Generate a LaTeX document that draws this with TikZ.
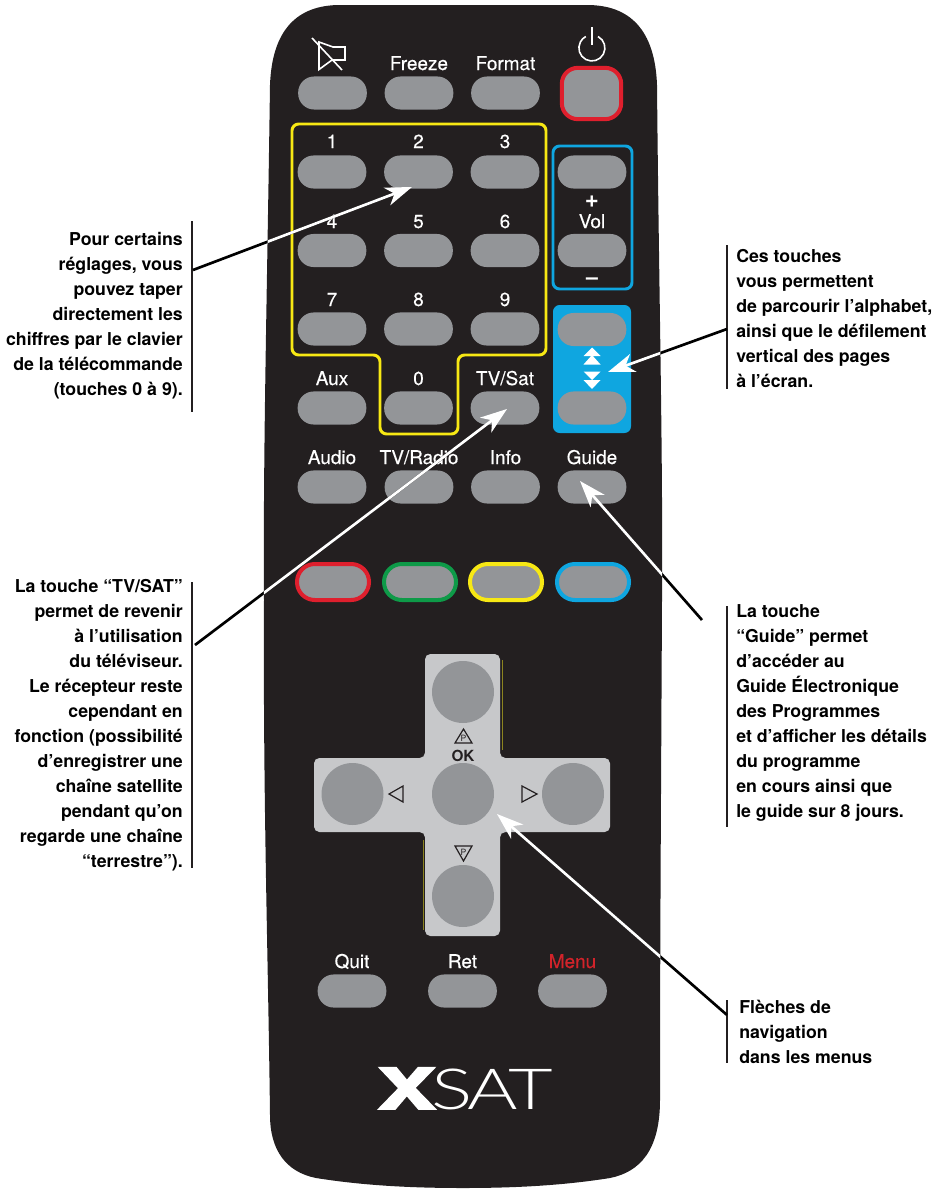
\documentclass[tikz,border=0pt]{standalone}
\usepackage{fontspec}
\setmainfont{TeX Gyre Heros}
\newfontfamily\satfont{Lato Light}
\newfontfamily\labfont[FakeBold=0.35]{TeX Gyre Heros}
\newfontfamily\logoxfont[BoldFeatures={FakeBold=3}]{TeX Gyre Heros}
\usetikzlibrary{arrows.meta}
\definecolor{bodyc}{HTML}{231F20}
\definecolor{btnc}{HTML}{939598}
\definecolor{crossc}{HTML}{C7C8CA}
\definecolor{redc}{HTML}{DF1F2D}
\definecolor{yelc}{HTML}{F7E814}
\definecolor{bluc}{HTML}{0FA6E0}
\definecolor{grnc}{HTML}{0E9A48}
\definecolor{olvc}{HTML}{8C8420}
\definecolor{menuc}{HTML}{D2232A}
\newcommand{\bodyshape}{(340,5) -- (587,5) .. controls (630,5) and (655,30) .. (657,85)
 .. controls (659,300) and (663,450) .. (662,600) .. controls (661,800) and (660,950) .. (660,1100)
 .. controls (660,1150) and (640,1172) .. (610,1178) .. controls (560,1186) and (510,1188) .. (463,1188)
 .. controls (416,1188) and (366,1186) .. (316,1178) .. controls (286,1172) and (270,1150) .. (270,1115)
 .. controls (268,950) and (263,800) .. (264,600) .. controls (263,450) and (267,300) .. (270,85)
 .. controls (272,30) and (297,5) .. (340,5) -- cycle}
\newcommand{\firstline}{\rule{0pt}{14pt}}
\tikzset{
 x=0.75pt,y=-0.75pt,
 pill/.style={fill=btnc,rounded corners=12pt,minimum width=51.5pt,minimum height=24.8pt,inner sep=0pt,draw=none},
 ringkey/.style={pill,draw=#1,line width=3pt,minimum width=54pt,minimum height=27pt,rounded corners=13.4pt},
 knob/.style={circle,fill=btnc,minimum size=46.5pt,inner sep=0pt},
 lab/.style={text=white,anchor=base,inner sep=0pt,font=\fontsize{14.2}{17}\labfont},
 note/.style={inner sep=0pt,text=black,font=\fontsize{13.3}{18.75}\selectfont\bfseries},
 noter/.style={note,align=right,anchor=north east},
 notel/.style={note,align=left,anchor=north west},
 bar/.style={draw=bodyc,line width=0.9pt},
 leadblack/.style={draw=black,line width=2pt,shorten >=30pt},
 leadwhite/.style={draw=white,line width=2pt,-{Stealth[length=20pt,width=14pt,inset=6pt]}},
 icon/.style={draw=white,line width=1.2pt},
 glyphline/.style={draw=bodyc,line width=0.9pt,line join=miter},
}
\begin{document}
\begin{tikzpicture}
\useasboundingbox (0,0) rectangle (937,1192);
\fill[bodyc] \bodyshape;
% top row
\node[pill] (mute) at (332.5,93) {};
\node[pill] (freeze) at (419,93) {};
\node[pill] (format) at (505.5,93) {};
\node[fill=btnc,draw=redc,line width=3pt,minimum width=44.5pt,minimum height=38.5pt,rounded corners=12pt,inner sep=0pt] (power) at (591.5,93.5) {};
\node[lab] (lfreeze) at (419,70) {Freeze};
\node[lab] (lformat) at (505.5,70) {Format};
% mute icon
\draw[icon] (319,42) -- (319,69.5) -- (332,60) -- (345,60) -- (345,47) -- (333,47) -- cycle;
\draw[icon] (312,38) -- (342,70);
% power icon
\draw[icon] (592,27) -- (592,45);
\draw[icon] (598,36.5) arc[start angle=-62,end angle=242,radius=13];
% number block frame
\draw[yelc,line width=2.2pt,rounded corners=5pt] (292,124) -- (546,124) -- (546,355) -- (458,355) -- (458,434) -- (380,434) -- (380,355) -- (292,355) -- cycle;
% digit keys
\foreach \n/\c/\xx/\yy/\bb in {one/1/332/172/148,two/2/418.5/172/148,three/3/505/172/148,
 four/4/332/250.5/228,five/5/418.5/250.5/228,six/6/505/250.5/228,
 seven/7/332/329/306,eight/8/418.5/329/306,nine/9/505/329/306,zero/0/418.5/408/385}{
 \node[pill] (k\n) at (\xx,\yy) {};
 \node[lab] (l\n) at (\xx,\bb) {\c};
}
% volume
\draw[bluc,line width=2.2pt,rounded corners=5pt] (553,146) rectangle (632,289);
\node[pill] (volup) at (592,172) {};
\node[pill] (voldn) at (592,250.5) {};
\node[lab,font=\fontsize{18}{20}\selectfont\bfseries] (lplus) at (592,207) {+};
\node[lab] (lvol) at (592,228) {Vol};
\node[lab,font=\fontsize{16}{18}\selectfont\bfseries] (lminus) at (592,284) {–};
% page block
\fill[bluc,rounded corners=5pt] (553,305) rectangle (631,433);
\node[pill] (pgup) at (592,329.5) {};
\node[pill] (pgdn) at (592,408) {};
\fill[white] (592,347.5) -- (600.5,356) -- (583.5,356) -- cycle;
\fill[white] (592,355) -- (600.5,364.5) -- (583.5,364.5) -- cycle;
\fill[white] (583.5,371.5) -- (600.5,371.5) -- (592,380) -- cycle;
\fill[white] (583.5,380) -- (600.5,380) -- (592,389) -- cycle;
% row Aux
\node[pill] (aux) at (332,408) {};
\node[pill] (tvsat) at (505,408) {};
\node[lab] (laux) at (332,385) {Aux};
\node[lab] (ltvsat) at (505,385) {TV/Sat};
% row Audio
\node[pill] (audio) at (332,487) {};
\node[pill] (tvradio) at (419,487) {};
\node[pill] (info) at (505.5,487) {};
\node[pill] (guide) at (592,487) {};
\node[lab] (laudio) at (332,464) {Audio};
\node[lab] (ltvradio) at (419,464) {TV/Radio};
\node[lab] (linfo) at (505.5,464) {Info};
\node[lab] (lguide) at (592,464) {Guide};
% colour row
\node[ringkey=redc] (kred) at (333,582) {};
\node[ringkey=grnc] (kgreen) at (420,582) {};
\node[ringkey=yelc] (kyellow) at (506,582) {};
\node[ringkey=bluc] (kblue) at (593,582) {};
% navigation cross
\fill[crossc,rounded corners=4pt] (425,654) -- (500,654) -- (500,758) -- (610,758) -- (610,832) -- (500,832) -- (500,936) -- (425,936) -- (425,832) -- (314,832) -- (314,758) -- (425,758) -- cycle;
\draw[olvc,line width=0.6pt] (502,660) -- (502,750);
\draw[olvc,line width=0.6pt] (423,840) -- (423,930);
\node[knob] (nup) at (463,692) {};
\node[knob] (nok) at (463,794) {};
\node[knob] (nleft) at (352.5,794) {};
\node[knob] (nright) at (573,794) {};
\node[knob] (ndown) at (463,896) {};
\draw[glyphline] (455,743) -- (472,743) -- (463.5,729) -- cycle;
\draw[glyphline] (455,846) -- (472,846) -- (463.5,861) -- cycle;
\draw[glyphline] (403,786) -- (403,802) -- (389,794) -- cycle;
\draw[glyphline] (522,786) -- (522,802) -- (537,794) -- cycle;
\node[anchor=base,inner sep=0pt,text=bodyc,font=\fontsize{6.5}{7}\selectfont] (pup) at (463.5,741.5) {P};
\node[anchor=base,inner sep=0pt,text=bodyc,font=\fontsize{6.5}{7}\selectfont] (pdn) at (463.5,855) {P};
\node[anchor=base,inner sep=0pt,text=bodyc,font=\fontsize{11.5}{13}\selectfont\bfseries] (lok) at (463,761) {OK};
% bottom row
\node[pill] (quit) at (352,991) {};
\node[pill] (ret) at (462.5,991) {};
\node[pill] (menu) at (572.5,991) {};
\node[lab] (lquit) at (352,968) {Quit};
\node[lab] (lret) at (462.5,968) {Ret};
\node[lab,text=menuc] (lmenu) at (572.5,968) {Menu};
% logo
\node[anchor=base west,inner sep=0pt,text=white,font=\fontsize{42.5}{43}\logoxfont\bfseries,xscale=1.55] (logox) at (377,1109) {X};
\node[anchor=base west,inner sep=0pt,text=white,font=\fontsize{42.5}{43}\satfont,xscale=1.36] (logosat) at (431,1109) {S\kern-3ptA\kern-5ptT};
% notes
\node[noter] (n1) at (183,226.5) {\firstline Pour certains\\réglages, vous\\pouvez taper\\directement les\\chiffres par le clavier\\de la télécommande\\(touches 0 à 9).};
\node[noter] (n2) at (183,573.5) {\firstline La touche “TV/SAT”\\permet de revenir\\à l’utilisation\\du téléviseur.\\Le récepteur reste\\cependant en\\fonction (possibilité\\d’enregistrer une\\chaîne satellite\\pendant qu’on\\regarde une chaîne\\“terrestre”).};
\node[notel] (n3) at (736,243.5) {\firstline Ces touches\\vous permettent\\de parcourir l’alphabet,\\ainsi que le défilement\\vertical des pages\\à l’écran.};
\node[notel] (n4) at (736,598.5) {\firstline La touche\\“Guide” permet\\d’accéder au\\Guide Électronique\\des Programmes\\et d’afficher les détails\\du programme\\en cours ainsi que\\le guide sur 8 jours.};
\node[notel] (n5) at (739,994.5) {\firstline Flèches de\\navigation\\dans les menus};
% bars
\draw[bar] (192,221) -- (192,412);
\draw[bar] (192,582) -- (192,868);
\draw[bar] (727,245) -- (727,389);
\draw[bar] (727,606) -- (727,827);
\draw[bar] (727,1000) -- (727,1063);
% leader ends
\coordinate (s1) at (193,270); \coordinate (t1) at (412,187);
\coordinate (s2) at (195,645); \coordinate (t2) at (507,409);
\coordinate (s3) at (727,329); \coordinate (t3) at (608,372);
\coordinate (s4) at (702,620); \coordinate (t4) at (580,481);
\coordinate (s5) at (727,1015); \coordinate (t5) at (497,814);
\foreach \i in {1,...,5}{
 \draw[leadblack] (s\i) -- (t\i);
}
\begin{scope}
\clip \bodyshape;
\foreach \i in {1,...,5}{
 \draw[leadwhite] (s\i) -- (t\i);
}
\end{scope}
\end{tikzpicture}
\end{document}
